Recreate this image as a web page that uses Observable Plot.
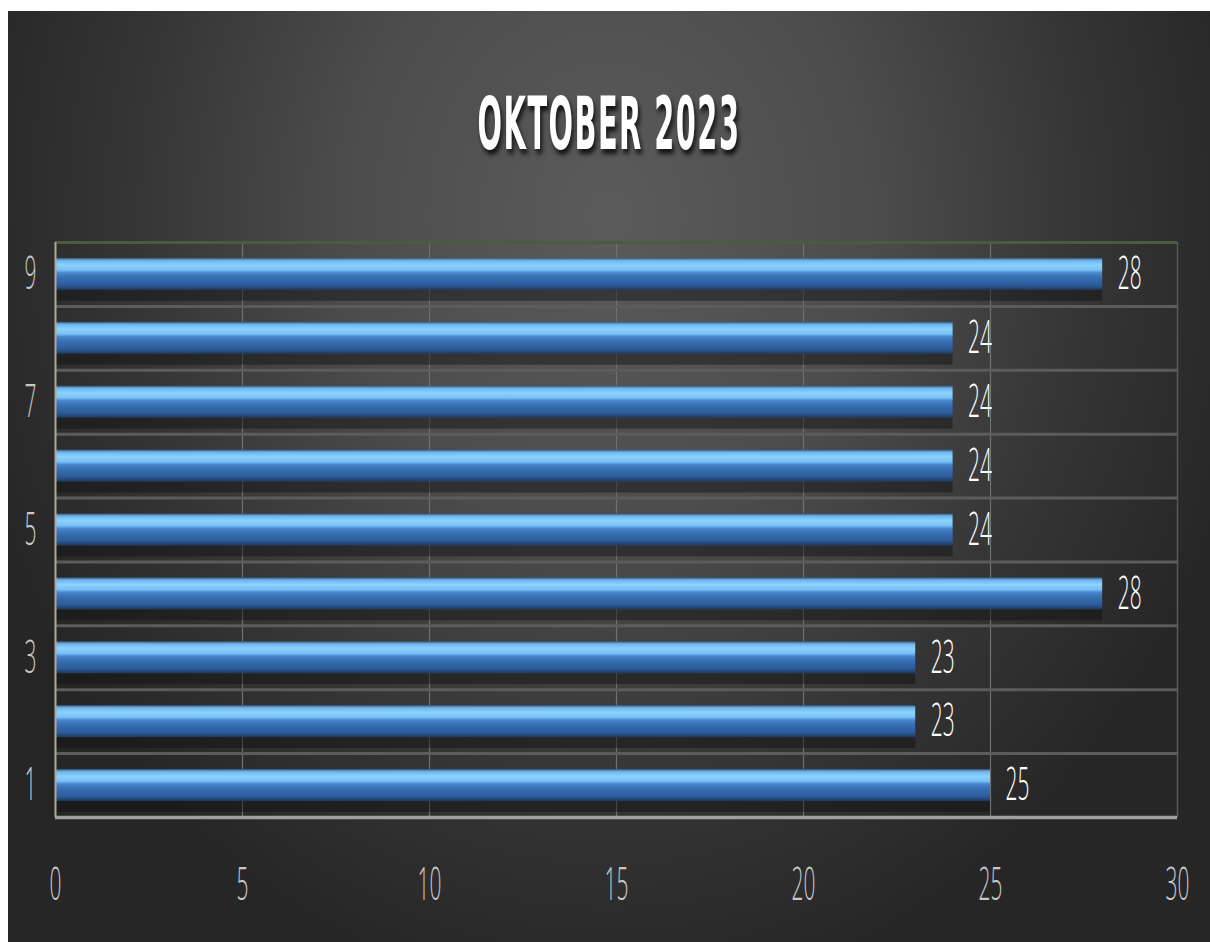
<!DOCTYPE html>
<html><head><meta charset="utf-8">
<script src="https://cdn.jsdelivr.net/npm/d3@7"></script>
<script src="https://cdn.jsdelivr.net/npm/@observablehq/plot@0.6"></script>
<style>
html,body{margin:0;padding:0;background:#fff;}
#chart{position:absolute;left:8px;top:11px;width:1202px;height:931px;overflow:hidden;
  background: radial-gradient(ellipse 55% 85% at 50% 22%, #5b5b5b 0%, #4c4c4c 40%, #353535 72%, #262626 100%);}
#title{position:absolute;left:0;top:93px;width:1202px;height:40px;line-height:40px;text-align:center;}
#title span{display:inline-block;font-family:'DejaVu Sans Condensed','DejaVu Sans',sans-serif;font-weight:bold;font-size:32px;
  color:#fff;transform:scale(1,2.3);transform-origin:50% 50%;text-shadow:2px 2px 3px rgba(0,0,0,0.75);letter-spacing:1.5px;}
#plot{position:absolute;left:0;top:200px;}
</style></head>
<body>
<div id="chart">
  <div id="title"><span>OKTOBER 2023</span></div>
  <div id="plot"></div>
</div>
<script>
const titleText = "OKTOBER 2023";
const days = [1,2,3,4,5,6,7,8,9];
const values = [25,23,23,28,24,24,24,24,28];
const xTicks = [0,5,10,15,20,25,30];
const yTicks = [1,3,5,7,9];

const data = days.map((d,i)=>({day:d, value:values[i]}));
const bandHalf = 0.25;

const chart = Plot.plot({
  width: 1202, height: 731,
  marginLeft: 47, marginRight: 33, marginTop: 31, marginBottom: 125,
  style: {background:"transparent", fontFamily:"'Open Sans','DejaVu Sans Condensed',sans-serif", fontSize:"22px", fontWeight:300},
  x: {domain:[0,30], axis:null},
  y: {domain:[0.5,9.5], axis:null},
  marks: [
    Plot.ruleX(xTicks.filter(t=>t>0 && t<30), {x:d=>d, stroke:"#707070", strokeWidth:1.2}),
    Plot.ruleX([30], {x:d=>d, stroke:"#5a5a5a", strokeWidth:1.5}),
    Plot.ruleY(days.slice(1), {y:d=>d-0.5, stroke:"#5c5c5c", strokeWidth:3}),
    Plot.ruleY([days[days.length-1]], {y:d=>d+0.5, stroke:"#4c5a3e", strokeWidth:3}),
    Plot.rect(data, {x1:0, x2:"value", y1:d=>d.day-0.42, y2:d=>d.day-bandHalf, fill:"#101010", fillOpacity:0.45}),
    Plot.rect(data, {x1:0, x2:"value", y1:d=>d.day-bandHalf, y2:d=>d.day+bandHalf, fill:"url(#barGrad)"}),
    Plot.ruleX([0], {x:d=>d, stroke:"#b0a898", strokeWidth:2}),
    Plot.ruleY([days[0]], {y:d=>d-0.5, stroke:"#a0a0a0", strokeWidth:3.5}),
    Plot.text(data, {x:"value", y:"day", text:d=>String(d.value), dx:15, textAnchor:"start", lineAnchor:"middle", fill:"#ffffff"}),
    Plot.text(xTicks, {x:d=>d, frameAnchor:"bottom", dy:68, text:d=>String(d), fill:"#c8c8c8", lineAnchor:"middle"}),
    Plot.text(yTicks, {y:d=>d, frameAnchor:"left", dx:-25, text:d=>String(d), fill:"#c8c8c8", textAnchor:"middle", lineAnchor:"middle"})
  ]
});

const ns = "http://www.w3.org/2000/svg";
const defs = document.createElementNS(ns, "defs");
defs.innerHTML = `<linearGradient id="barGrad" x1="0" y1="0" x2="0" y2="1">
  <stop offset="0" stop-color="#3b5474"/>
  <stop offset="0.08" stop-color="#6cb4ee"/>
  <stop offset="0.22" stop-color="#8cd2ff"/>
  <stop offset="0.38" stop-color="#78c0f6"/>
  <stop offset="0.46" stop-color="#4a8ad0"/>
  <stop offset="0.58" stop-color="#3a72b8"/>
  <stop offset="0.86" stop-color="#2c5a98"/>
  <stop offset="1" stop-color="#1e3858"/>
</linearGradient>`;
chart.insertBefore(defs, chart.firstChild);
chart.querySelectorAll("text").forEach(t => {
  const tr = t.getAttribute("transform") || "";
  t.setAttribute("transform", tr + " scale(0.95,2.1)");
});
document.getElementById("plot").appendChild(chart);
</script>
</body></html>
